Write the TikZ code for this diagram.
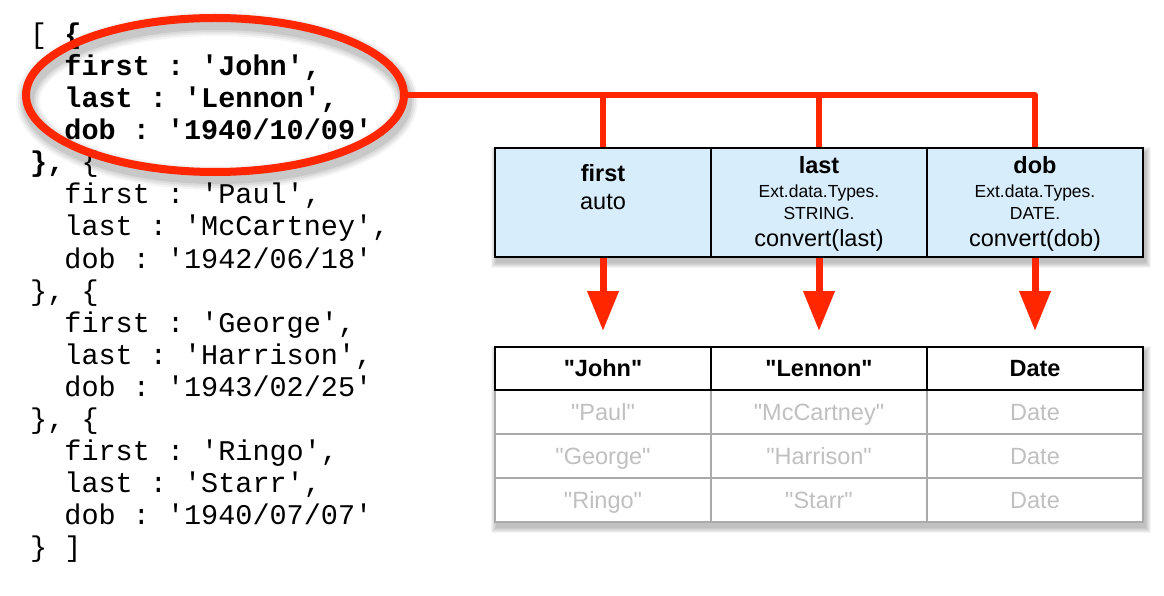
\documentclass[tikz,border=0pt]{standalone}
\usepackage{fontspec}
\setmainfont{Liberation Sans}[Ligatures=TeXOff]
\setmonofont{Liberation Mono}
\usetikzlibrary{arrows.meta,shapes.geometric}
\definecolor{hl}{RGB}{255,38,0}
\definecolor{cellblue}{RGB}{216,237,251}
\definecolor{greytxt}{RGB}{192,192,192}
\definecolor{greyline}{RGB}{170,170,170}
\newcommand\q{\char39\relax}
\newcommand\dq{\char34\relax}
\newcommand\bigsans{\fontsize{23.5}{27}\selectfont}
\newcommand\smallsans{\fontsize{17.5}{20}\selectfont}
\newcommand\codefont{\ttfamily\fontsize{28.5}{32}\selectfont}
\tikzset{
  code/.style={anchor=base west, inner sep=0pt, font=\codefont},
  txt/.style={anchor=base, inner sep=0pt},
  hdrcell/.style={draw=black, line width=2.2pt, fill=cellblue, minimum width=216pt, minimum height=109pt, inner sep=0pt},
  rowcell/.style={draw=greyline, line width=2pt, fill=white, minimum width=216pt, minimum height=44pt, inner sep=0pt, text height=16.5pt, text depth=0pt, font=\bigsans, text=greytxt},
  topcell/.style={draw=black, line width=2pt, fill=white, minimum width=216pt, minimum height=43pt, inner sep=0pt, text height=16.5pt, text depth=0pt, font=\bigsans\bfseries, text=black},
  redline/.style={draw=hl, line width=6pt, line join=round},
  redarrow/.style={draw=hl, line width=7pt, -{Triangle[width=30pt,length=40pt]}, shorten >=15pt},
}
\begin{document}
\begin{tikzpicture}[x=1pt,y=-1pt]
\useasboundingbox (0,0) rectangle (1164,596);
\fill[white] (0,0) rectangle (1164,596);

% ---------- code listing ----------
\node[code] (c0)  at (30,44)  {[ \textbf{\{}};
\node[code] (c1)  at (64.2,76)  {\textbf{first : \q John\q,}};
\node[code] (c2)  at (64.2,108) {\textbf{last : \q Lennon\q,}};
\node[code] (c3)  at (64.2,140) {\textbf{dob : \q 1940/10/09\q}};
\node[code] (c4)  at (30,172) {\textbf{\},} \{};
\node[code] (c5)  at (64.2,204) {first : \q Paul\q,};
\node[code] (c6)  at (64.2,236) {last : \q McCartney\q,};
\node[code] (c7)  at (64.2,268) {dob : \q 1942/06/18\q};
\node[code] (c8)  at (30,300) {\}, \{};
\node[code] (c9)  at (64.2,332) {first : \q George\q,};
\node[code] (c10) at (64.2,364) {last : \q Harrison\q,};
\node[code] (c11) at (64.2,396) {dob : \q 1943/02/25\q};
\node[code] (c12) at (30,428) {\}, \{};
\node[code] (c13) at (64.2,460) {first : \q Ringo\q,};
\node[code] (c14) at (64.2,492) {last : \q Starr\q,};
\node[code] (c15) at (64.2,524) {dob : \q 1940/07/07\q};
\node[code] (c16) at (30,556) {\} ]};

% ---------- ellipse highlight with soft shadow ----------
\foreach \w/\o in {24/0.04,20/0.05,16/0.06,12/0.08}
  \draw[black, opacity=\o, line width=\w pt] (217,101) ellipse [x radius=189pt, y radius=77pt];
\node[draw=hl, line width=8pt, ellipse, inner sep=0pt, minimum width=378pt, minimum height=154pt] (ell) at (215,95) {};

% ---------- table shadows ----------
\foreach \i in {1,...,6}{
  \fill[black, opacity=0.045] ({497-\i},{153-\i}) rectangle ({1145+\i},{262+\i});
  \fill[black, opacity=0.045] ({497-\i},{352-\i}) rectangle ({1145+\i},{527+\i});
}

% ---------- mapping table (blue) ----------
\node[hdrcell] (h1) at (603,202.5) {};
\node[hdrcell] (h2) at (819,202.5) {};
\node[hdrcell] (h3) at (1035,202.5) {};
\node[txt, font=\bigsans\bfseries] (h1a) at (603,182) {first};
\node[txt, font=\bigsans] (h1b) at (603,209) {auto};
\node[txt, font=\bigsans\bfseries] (h2a) at (819,174) {last};
\node[txt, font=\smallsans] (h2b) at (819,198) {Ext.data.Types.};
\node[txt, font=\smallsans] (h2c) at (819,219) {STRING.};
\node[txt, font=\bigsans] (h2d) at (819,246) {convert(last)};
\node[txt, font=\bigsans\bfseries] (h3a) at (1035,174) {dob};
\node[txt, font=\smallsans] (h3b) at (1035,198) {Ext.data.Types.};
\node[txt, font=\smallsans] (h3c) at (1035,219) {DATE.};
\node[txt, font=\bigsans] (h3d) at (1035,246) {convert(dob)};

% ---------- result table ----------
\node[rowcell] (r1a) at (603,412) {\dq Paul\dq};
\node[rowcell] (r1b) at (819,412) {\dq McCartney\dq};
\node[rowcell] (r1c) at (1035,412) {Date};
\node[rowcell] (r2a) at (603,456) {\dq George\dq};
\node[rowcell] (r2b) at (819,456) {\dq Harrison\dq};
\node[rowcell] (r2c) at (1035,456) {Date};
\node[rowcell] (r3a) at (603,500) {\dq Ringo\dq};
\node[rowcell] (r3b) at (819,500) {\dq Starr\dq};
\node[rowcell] (r3c) at (1035,500) {Date};
\node[topcell] (d1) at (603,368.5) {\dq John\dq};
\node[topcell] (d2) at (819,368.5) {\dq Lennon\dq};
\node[topcell] (d3) at (1035,368.5) {Date};

% ---------- connectors ----------
\coordinate (j3) at (h3.north |- ell.east);
\draw[redline] (ell.east) -- (j3) -- (h3.north);
\draw[redline] (h1.north |- ell.east) -- (h1.north);
\draw[redline] (h2.north |- ell.east) -- (h2.north);
\draw[redarrow] (h1.south) -- (d1.north);
\draw[redarrow] (h2.south) -- (d2.north);
\draw[redarrow] (h3.south) -- (d3.north);
\end{tikzpicture}
\end{document}
